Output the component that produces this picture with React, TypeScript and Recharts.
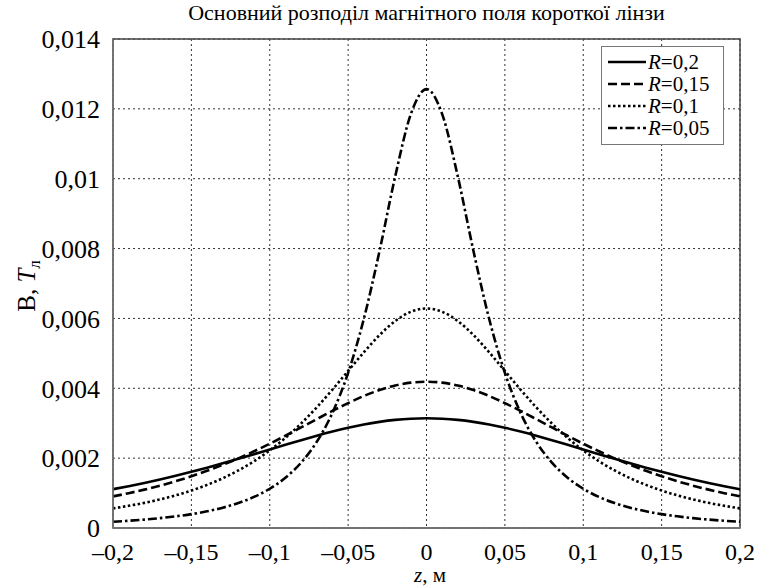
import React from 'react';
import {
  LineChart, Line, XAxis, YAxis, CartesianGrid, Legend, ReferenceArea,
} from 'recharts';

// z coordinate, m
const zValues = [
  -0.2, -0.19, -0.18, -0.17, -0.16, -0.15, -0.14, -0.13, -0.12, -0.11, -0.1,
  -0.09, -0.08, -0.07, -0.06, -0.05, -0.04, -0.03, -0.02, -0.01, 0,
  0.01, 0.02, 0.03, 0.04, 0.05, 0.06, 0.07, 0.08, 0.09, 0.1,
  0.11, 0.12, 0.13, 0.14, 0.15, 0.16, 0.17, 0.18, 0.19, 0.2,
];

// B, Tl for each lens radius
const bR020 = [
  0.001111, 0.001197, 0.00129, 0.00139, 0.001496, 0.001609, 0.001727, 0.001852, 0.001981, 0.002113, 0.002248,
  0.002382, 0.002515, 0.002642, 0.002761, 0.002868, 0.002962, 0.003038, 0.003095, 0.00313, 0.003142,
  0.00313, 0.003095, 0.003038, 0.002962, 0.002868, 0.002761, 0.002642, 0.002515, 0.002382, 0.002248,
  0.002113, 0.001981, 0.001852, 0.001727, 0.001609, 0.001496, 0.00139, 0.00129, 0.001197, 0.001111,
];
const bR015 = [
  0.000905, 0.000997, 0.001099, 0.001213, 0.00134, 0.001481, 0.001637, 0.001808, 0.001994, 0.002197, 0.002413,
  0.002641, 0.002878, 0.003117, 0.003353, 0.003576, 0.003779, 0.003949, 0.00408, 0.004161, 0.004189,
  0.004161, 0.00408, 0.003949, 0.003779, 0.003576, 0.003353, 0.003117, 0.002878, 0.002641, 0.002413,
  0.002197, 0.001994, 0.001808, 0.001637, 0.001481, 0.00134, 0.001213, 0.001099, 0.000997, 0.000905,
];
const bR010 = [
  0.000562, 0.000635, 0.00072, 0.000819, 0.000936, 0.001072, 0.001234, 0.001424, 0.001649, 0.001912, 0.002221,
  0.00258, 0.002992, 0.003455, 0.003962, 0.004496, 0.005029, 0.005521, 0.005924, 0.00619, 0.006283,
  0.00619, 0.005924, 0.005521, 0.005029, 0.004496, 0.003962, 0.003455, 0.002992, 0.00258, 0.002221,
  0.001912, 0.001649, 0.001424, 0.001234, 0.001072, 0.000936, 0.000819, 0.00072, 0.000635, 0.000562,
];
const bR005 = [
  0.000179, 0.000207, 0.000241, 0.000282, 0.000334, 0.000397, 0.000478, 0.000581, 0.000715, 0.00089, 0.001124,
  0.001439, 0.001871, 0.002468, 0.003297, 0.004443, 0.005983, 0.007923, 0.010059, 0.011848, 0.012566,
  0.011848, 0.010059, 0.007923, 0.005983, 0.004443, 0.003297, 0.002468, 0.001871, 0.001439, 0.001124,
  0.00089, 0.000715, 0.000581, 0.000478, 0.000397, 0.000334, 0.000282, 0.000241, 0.000207, 0.000179,
];

const xTicks = [-0.2, -0.15, -0.1, -0.05, 0, 0.05, 0.1, 0.15, 0.2];
const yTicks = [0, 0.002, 0.004, 0.006, 0.008, 0.01, 0.012, 0.014];

const seriesNames = ['R=0,2', 'R=0,15', 'R=0,1', 'R=0,05'];
const seriesKeys = ['r020', 'r015', 'r010', 'r005'];
const dashes = ['', '9 4', '2.5 2.5', '9 3 2.5 3'];

const FONT = '"Liberation Serif", serif';

const data = zValues.map((z, i) => ({
  z, r020: bR020[i], r015: bR015[i], r010: bR010[i], r005: bR005[i],
}));

const fmt = (v: number) => String(v).replace('.', ',').replace('-', '\u2013');

function LegendBox() {
  return (
    <div style={{
      border: '1px solid #777', background: '#fff', padding: '4px 14px 5px 6px',
      fontFamily: FONT, fontSize: 21, lineHeight: '22px', color: '#000',
    }}>
      {seriesNames.map((n, i) => (
        <div key={n} style={{ display: 'flex', alignItems: 'center', whiteSpace: 'nowrap', height: 22 }}>
          <svg width={38} height={10} style={{ marginRight: 2 }}>
            <line x1={0} y1={5} x2={38} y2={5} stroke="#000" strokeWidth={2.5}
              strokeDasharray={dashes[i] || undefined} />
          </svg>
          <span><i>R</i>{n.slice(1)}</span>
        </div>
      ))}
    </div>
  );
}

export default function App() {
  return (
    <div style={{
      position: 'absolute', left: 0, top: 0, width: 757, height: 588, background: '#fff', fontFamily: FONT,
    }}>
      <style>{`.recharts-wrapper text { font-family: "Liberation Serif", serif !important; }`}</style>
      <div style={{
        position: 'absolute', left: 100, width: 653, top: 0, textAlign: 'center',
        fontFamily: FONT, fontSize: 22, color: '#000', whiteSpace: 'nowrap',
      }}>
        Основний розподіл магнітного поля короткої лінзи
      </div>
      <LineChart width={757} height={588} data={data} style={{ fontFamily: FONT }}
        margin={{ top: 39, right: 17, left: 0, bottom: 0 }}>
        <CartesianGrid stroke="#333" strokeDasharray="2 3" strokeWidth={1}
          horizontalValues={yTicks} verticalValues={xTicks} />
        <XAxis dataKey="z" type="number" domain={[-0.2, 0.2]} ticks={xTicks}
          height={60} tickFormatter={fmt} tickLine={false} tickMargin={9}
          axisLine={{ stroke: '#777', strokeWidth: 1.5 }}
          tick={{ fontFamily: FONT, fontSize: 24, fill: '#000' }}
          label={{
            content: () => (
              <text x={430} y={582} textAnchor="middle" fontFamily={FONT} fontSize={21} fill="#000">
                <tspan fontStyle="italic">z</tspan>, м
              </text>
            ),
          }} />
        <YAxis type="number" domain={[0, 0.014]} ticks={yTicks} width={113}
          tickFormatter={fmt} tickLine={false} tickMargin={7}
          axisLine={{ stroke: '#777', strokeWidth: 1.5 }}
          tick={{ fontFamily: FONT, fontSize: 26, fill: '#000' }}
          label={{
            content: () => (
              <text x={0} y={0} transform="translate(35,286) rotate(-90)" textAnchor="middle"
                fontFamily={FONT} fontSize={25} fill="#000">
                В, <tspan fontStyle="italic">T</tspan><tspan fontSize={17} dy={5}>л</tspan>
              </text>
            ),
          }} />
        <ReferenceArea x1={-0.2} x2={0.2} y1={0} y2={0.014} fill="none" fillOpacity={0}
          stroke="#444" strokeWidth={1.5} />
        <Legend layout="vertical" align="center" verticalAlign="middle"
          wrapperStyle={{ left: 601, top: 46, width: 'auto' }}
          content={() => <LegendBox />} />
        {seriesKeys.map((k, i) => (
          <Line key={k} dataKey={k} name={seriesNames[i]} type="monotone" stroke="#000"
            strokeWidth={2.6} strokeDasharray={dashes[i] || undefined} dot={false}
            isAnimationActive={false} />
        ))}
      </LineChart>
    </div>
  );
}
